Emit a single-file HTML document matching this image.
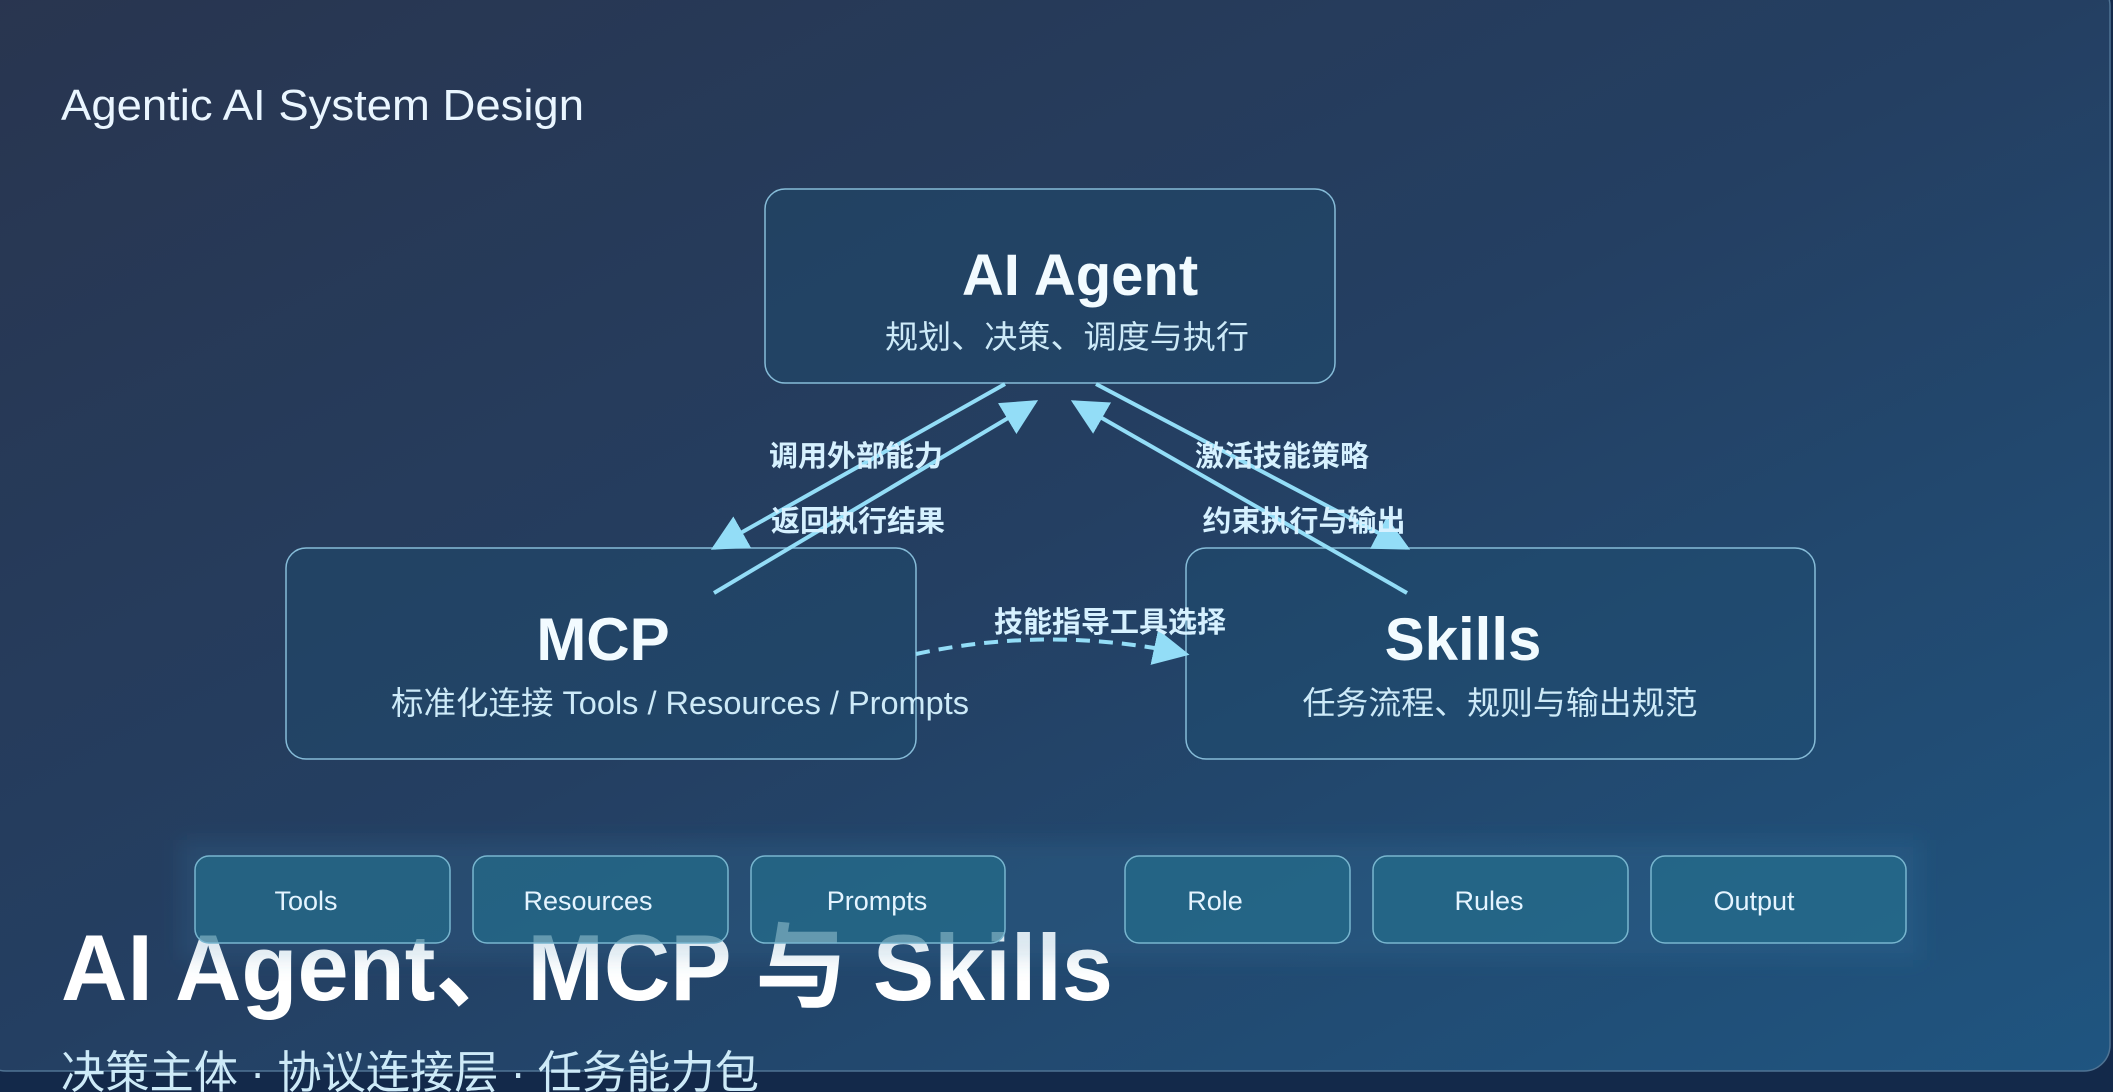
<!DOCTYPE html>
<html><head><meta charset="utf-8"><style>
html,body{margin:0;padding:0;width:2113px;height:1092px;overflow:hidden;background:#142a4a}
svg{display:block}
text{font-family:"Liberation Sans","Noto Sans CJK SC",sans-serif}
</style></head><body>
<svg width="2113" height="1092" viewBox="0 0 2113 1092" xmlns="http://www.w3.org/2000/svg">
<defs>
<linearGradient id="bg" x1="0" y1="0" x2="1" y2="1">
<stop offset="0" stop-color="#29354f"/><stop offset="0.5" stop-color="#243f62"/><stop offset="1" stop-color="#1f5580"/>
</linearGradient>
<marker id="a" viewBox="0 0 10 10" refX="9" refY="5" markerWidth="9" markerHeight="9" orient="auto"><path d="M0,0 L10,5 L0,10 z" fill="#93ddf7"/></marker>
<filter id="glow" x="-20%" y="-40%" width="140%" height="180%"><feGaussianBlur stdDeviation="10"/></filter>
</defs>
<rect x="0" y="0" width="2113" height="1092" fill="#13294a"/>
<rect x="-20" y="-20" width="2130" height="1091" rx="26" fill="url(#bg)" stroke="#4f7393" stroke-width="1.5"/>
<text x="61" y="120" font-size="44" fill="#eaf6ff" textLength="523" lengthAdjust="spacingAndGlyphs">Agentic AI System Design</text>

<g fill="rgba(30,80,115,0.35)" stroke="#86bcd8" stroke-width="1.5">
<rect x="765" y="189" width="570" height="194" rx="20"/>
<rect x="286" y="548" width="630" height="211" rx="20"/>
<rect x="1186" y="548" width="629" height="211" rx="20"/>
</g>
<text x="1080" y="295" font-size="58" font-weight="bold" fill="#f2fbff" text-anchor="middle">AI Agent</text>
<text x="1067" y="348" font-size="32" fill="#cdeaf8" text-anchor="middle" textLength="364" lengthAdjust="spacingAndGlyphs">规划、决策、调度与执行</text>
<text x="603" y="660" font-size="60" font-weight="bold" fill="#f2fbff" text-anchor="middle">MCP</text>
<text x="680" y="714" font-size="32" fill="#cdeaf8" text-anchor="middle" textLength="578" lengthAdjust="spacingAndGlyphs">标准化连接 Tools / Resources / Prompts</text>
<text x="1463" y="660" font-size="60" font-weight="bold" fill="#f2fbff" text-anchor="middle">Skills</text>
<text x="1500" y="714" font-size="32" fill="#cdeaf8" text-anchor="middle" textLength="395" lengthAdjust="spacingAndGlyphs">任务流程、规则与输出规范</text>

<g stroke="#93ddf7" stroke-width="4" fill="none">
<line x1="1005" y1="384" x2="714" y2="548" marker-end="url(#a)"/>
<line x1="714" y1="593" x2="1035" y2="402" marker-end="url(#a)"/>
<line x1="1096" y1="384" x2="1407" y2="548" marker-end="url(#a)"/>
<line x1="1407" y1="593" x2="1074" y2="402" marker-end="url(#a)"/>
<path d="M916,654 Q1050,625 1186,654" stroke-dasharray="14,9" marker-end="url(#a)"/>
</g>
<g font-size="29" font-weight="bold" fill="#d6f1ff" text-anchor="middle">
<text x="856" y="466">调用外部能力</text>
<text x="858" y="531">返回执行结果</text>
<text x="1282" y="466">激活技能策略</text>
<text x="1304" y="531">约束执行与输出</text>
<text x="1110" y="632">技能指导工具选择</text>
</g>

<text x="61" y="1000" font-size="94" font-weight="bold" fill="#ffffff" textLength="1052" lengthAdjust="spacingAndGlyphs">AI Agent、MCP 与 Skills</text>
<text x="61" y="1088" font-size="45" fill="#cdeaf8" textLength="698" lengthAdjust="spacingAndGlyphs">决策主体 · 协议连接层 · 任务能力包</text>

<rect x="180" y="840" width="1740" height="120" fill="rgba(60,130,170,0.18)" filter="url(#glow)"/>
<g fill="rgba(35,110,140,0.65)" stroke="#78b6cf" stroke-width="1.5">
<rect x="195" y="856" width="255" height="87" rx="14"/>
<rect x="473" y="856" width="255" height="87" rx="14"/>
<rect x="751" y="856" width="254" height="87" rx="14"/>
<rect x="1125" y="856" width="225" height="87" rx="14"/>
<rect x="1373" y="856" width="255" height="87" rx="14"/>
<rect x="1651" y="856" width="255" height="87" rx="14"/>
</g>
<g font-size="27" fill="#e4f4ff" text-anchor="middle">
<text x="306" y="910">Tools</text>
<text x="588" y="910">Resources</text>
<text x="877" y="910">Prompts</text>
<text x="1215" y="910">Role</text>
<text x="1489" y="910">Rules</text>
<text x="1754" y="910">Output</text>
</g>
</svg>
</body></html>
